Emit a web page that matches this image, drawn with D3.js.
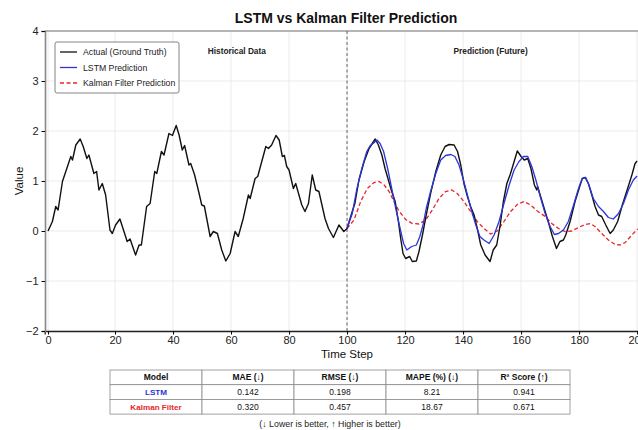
<!DOCTYPE html>
<html lang="en">
<head>
    <title>LSTM vs Kalman Filter Prediction</title>
    <script src="https://d3js.org/d3.v7.min.js"></script>
    <style>
        body { margin: 0; background: #fff; }
        text { font-family: "Liberation Sans", Arial, sans-serif; }
    </style>
</head>
<body>
<script>
    // ---- data ----
    const actualT = [0,1.3,2.3,3,4.3,5.6,6.8,7.3,8.3,9.6,10.5,11.6,12.2,13.7,14.5,15.2,16.2,17.2,18.5,19.2,
        20.2,21.7,24.2,25.2,27.1,28.3,29.1,30.9,32.1,33.7,34.4,36,36.9,38.6,39.8,41.1,42.1,43.2,44,45.5,
        46.1,47.4,49,49.9,50.8,52.8,53.9,55.3,56.8,58.2,59.7,61.4,62.5,64.2,66,66.6,68.3,69.2,70.6,72,
        72.9,74,75.5,76.6,77.7,78.4,79.2,80,81.5,82.3,84.4,85.5,86.7,88,89.2,90.3,92.4,93.6,95.3,97.2,
        98.9,100,101.8,102.7,104.1,105.9,107.6,108.7,109.7,110.8,112,113.1,113.9,115.4,116.6,117.7,118.5,119.3,120.2,121.6,
        122.5,123.9,124.8,126,127.3,128.8,130.6,132.3,133.8,135.2,136.9,138.1,139.2,140.3,141.5,142.6,143.8,144.9,146.1,147.6,
        149.3,150.4,151.6,152.8,153.9,155.1,156.2,157.4,158.7,160,161.1,162.3,163.4,164.6,165.4,165.7,167.1,168.3,169.7,170.8,
        172.2,173.4,174.6,175.4,176.9,178.6,180,181.1,182.1,183.2,184.4,185.5,186.7,187.8,189.2,190.7,191.8,193.3,194.9,196.4,
        198.2,199.3,200];
    const actualV = [0,0.19,0.49,0.42,0.99,1.25,1.49,1.42,1.72,1.84,1.69,1.45,1.52,1.15,1.19,0.82,0.95,0.72,0.02,-0.05,
        0.12,0.24,-0.21,-0.16,-0.48,-0.28,-0.28,0.49,0.55,1.19,1.15,1.59,1.52,1.95,1.91,2.11,1.92,1.62,1.71,1.32,
        1.35,1.13,0.75,0.52,0.5,-0.11,-0.01,-0.05,-0.38,-0.6,-0.45,-0.01,-0.11,0.25,0.72,0.65,1.05,1.09,1.39,1.69,
        1.65,1.72,1.91,1.82,1.49,1.51,1.29,1.22,0.85,0.95,0.52,0.39,0.55,1.12,0.82,0.79,0.25,0.05,-0.13,0.12,
        -0.01,0.05,0.39,0.55,1.02,1.39,1.65,1.75,1.84,1.72,1.52,1.25,1.09,0.79,0.59,0.19,-0.15,-0.45,-0.55,-0.51,
        -0.61,-0.6,-0.41,-0.08,0.32,0.75,1.19,1.52,1.69,1.73,1.72,1.59,1.32,0.95,0.69,0.49,0.32,0.05,-0.28,-0.48,
        -0.61,-0.38,-0.28,0.12,0.59,0.95,1.12,1.35,1.6,1.49,1.42,1.45,1.25,0.92,0.82,0.89,0.62,0.39,0.12,-0.11,
        -0.35,-0.21,-0.18,-0.08,0.19,0.59,0.85,1.05,1.07,0.95,0.72,0.49,0.32,0.29,0.12,-0.05,0.02,0.19,0.52,0.79,
        1.12,1.35,1.4];

    const lstmT = [100,101.8,103.3,105.1,106.8,108,109.2,110.3,111.4,112.6,114,115.4,116.8,118.3,119.5,120.6,122.3,123.9,125.1,126.2,
        127.3,128.8,130.6,132.3,134,135.8,137.2,138.6,140,141.5,143,144.4,145.8,147.2,149,150.7,152.4,154.1,155.9,157.6,
        159.3,160.8,162.3,163.7,165.1,166.6,168.3,170,171.5,172.9,174.6,176.3,178.1,179.8,181.1,182.3,183.4,184.9,186.7,188.4,
        190.1,191.8,193.6,195.3,197,198.7,200];
    const lstmV = [0.05,0.35,0.82,1.25,1.59,1.71,1.76,1.82,1.75,1.59,1.25,0.85,0.45,0.05,-0.25,-0.38,-0.31,-0.28,-0.11,0.12,
        0.45,0.79,1.15,1.42,1.51,1.53,1.49,1.32,1.05,0.72,0.39,0.12,-0.11,-0.18,-0.25,-0.08,0.19,0.55,0.92,1.22,
        1.39,1.49,1.49,1.29,1.02,0.69,0.35,0.09,-0.07,-0.05,0.02,0.19,0.52,0.85,1.05,1.07,0.92,0.65,0.49,0.39,
        0.27,0.24,0.35,0.55,0.82,1.02,1.1];

    const kalmanT = [100,102.4,104.7,107,109.3,111,112.8,114.5,116.2,117.9,120.2,122.5,124.8,127.1,129.4,131.7,134,136.1,138,140.3,
        142.6,144.9,147.2,149.5,151.8,154.1,156.4,158.7,161,163.3,165.6,168.3,170.6,172.9,175.2,177.5,179.8,182.1,183.8,185.5,
        187.8,190.1,192.4,194.1,195.9,198.2,200.2];
    const kalmanV = [0.05,0.22,0.59,0.85,0.97,0.99,0.92,0.79,0.59,0.4,0.23,0.15,0.14,0.22,0.42,0.65,0.79,0.82,0.75,0.59,
        0.39,0.19,0.05,-0.06,0.0,0.19,0.39,0.53,0.59,0.52,0.4,0.29,0.15,0.05,-0.01,0.0,0.07,0.13,0.15,0.09,
        -0.05,-0.18,-0.27,-0.28,-0.23,-0.08,0.04];

    const xTicks = [0, 20, 40, 60, 80, 100, 120, 140, 160, 180, 200];
    const yTicks = [-2, -1, 0, 1, 2, 3, 4];
    const splitStep = 100;

    const tableHeaders = ["Model", "MAE (\u2193)", "RMSE (\u2193)", "MAPE (%) (\u2193)", "R\u00b2 Score (\u2191)"];
    const tableModels  = ["LSTM", "Kalman Filter"];
    const tableRows    = [["0.142", "0.198", "8.21", "0.941"],
                          ["0.320", "0.457", "18.67", "0.671"]];

    const blue  = "#2b35d8";
    const red   = "#e8262a";

    // ---- layout ----
    const W = 638, H = 430;
    const plotTop = 31, plotBottom = 331;

    const svg = d3.select("body").append("svg")
        .attr("width", W).attr("height", H);

    // the picture spaces 0..20 a bit wider than the rest
    const x = d3.scaleLinear().domain([-1, 20, 201]).range([44.7, 115, 640]);
    const y = d3.scaleLinear().domain([-2, 4]).range([plotBottom, plotTop]);

    // grid
    svg.append("g").selectAll("line").data(xTicks).join("line")
        .attr("x1", d => x(d)).attr("x2", d => x(d))
        .attr("y1", plotTop).attr("y2", plotBottom)
        .attr("stroke", "#e6e6e6").attr("stroke-width", 0.8);
    svg.append("g").selectAll("line").data(yTicks).join("line")
        .attr("x1", 45).attr("x2", 640)
        .attr("y1", d => y(d)).attr("y2", d => y(d))
        .attr("stroke", "#e6e6e6").attr("stroke-width", 0.8);

    // axes
    const xAxis = svg.append("g")
        .attr("transform", `translate(0,${plotBottom})`)
        .call(d3.axisBottom(x).tickValues(xTicks).tickSizeOuter(0).tickSize(3.5).tickPadding(2));
    xAxis.select(".domain").attr("stroke", "#222").attr("stroke-width", 1.3);
    xAxis.selectAll("text").attr("font-size", 11).attr("fill", "#222")
        .attr("font-family", "'Liberation Sans', Arial, sans-serif");

    const yAxis = svg.append("g")
        .attr("transform", `translate(45,0)`)
        .call(d3.axisLeft(y).tickValues(yTicks).tickSizeOuter(0).tickSize(3.5).tickPadding(3)
            .tickFormat(d => d < 0 ? "\u2212" + Math.abs(d) : d));
    yAxis.select(".domain").attr("stroke", "#888").attr("stroke-width", 1.6);
    yAxis.selectAll("text").attr("font-size", 11).attr("fill", "#222")
        .attr("font-family", "'Liberation Sans', Arial, sans-serif");

    // top spine
    svg.append("line").attr("x1", 45).attr("x2", 640).attr("y1", plotTop).attr("y2", plotTop)
        .attr("stroke", "#777").attr("stroke-width", 1.2);

    // split line
    svg.append("line")
        .attr("x1", x(splitStep)).attr("x2", x(splitStep))
        .attr("y1", plotTop).attr("y2", plotBottom)
        .attr("stroke", "#555").attr("stroke-width", 0.9)
        .attr("stroke-dasharray", "3,2.5");

    // series
    const line = d3.line().x(d => x(d[0])).y(d => y(d[1]));
    const actual = d3.zip(actualT, actualV);
    const lstm   = d3.zip(lstmT, lstmV);
    const kalman = d3.zip(kalmanT, kalmanV);

    svg.append("path").datum(kalman)
        .attr("fill", "none").attr("stroke", red).attr("stroke-width", 1.3)
        .attr("stroke-dasharray", "4,2.5").attr("d", line);
    svg.append("path").datum(actual)
        .attr("fill", "none").attr("stroke", "#111").attr("stroke-width", 1.4)
        .attr("stroke-linejoin", "round").attr("d", line);
    svg.append("path").datum(lstm)
        .attr("fill", "none").attr("stroke", blue).attr("stroke-width", 1.3)
        .attr("stroke-linejoin", "round").attr("d", line);

    // region labels
    svg.append("text").attr("x", x(62)).attr("y", 54)
        .attr("text-anchor", "middle").attr("font-size", 8.3).attr("font-weight", "bold")
        .attr("fill", "#222").text("Historical Data");
    svg.append("text").attr("x", x(149.5)).attr("y", 54)
        .attr("text-anchor", "middle").attr("font-size", 8.3).attr("font-weight", "bold")
        .attr("fill", "#222").text("Prediction (Future)");

    // legend
    const legendItems = [
        { label: "Actual (Ground Truth)", color: "#111", dash: null },
        { label: "LSTM Prediction", color: blue, dash: null },
        { label: "Kalman Filter Prediction", color: red, dash: "4,2.5" }
    ];
    const lg = svg.append("g").attr("transform", "translate(55,42)");
    lg.append("rect").attr("width", 124).attr("height", 51).attr("rx", 2)
        .attr("fill", "#fff").attr("stroke", "#777").attr("stroke-width", 0.9);
    legendItems.forEach((d, i) => {
        const yy = 10 + i * 15.5;
        lg.append("line").attr("x1", 5).attr("x2", 22).attr("y1", yy).attr("y2", yy)
            .attr("stroke", d.color).attr("stroke-width", 1.3)
            .attr("stroke-dasharray", d.dash);
        lg.append("text").attr("x", 28).attr("y", yy + 3.2)
            .attr("font-size", 8.7).attr("fill", "#222").text(d.label);
    });

    // title and axis labels
    svg.append("text").attr("x", 346).attr("y", 23).attr("text-anchor", "middle")
        .attr("font-size", 14).attr("font-weight", "bold").attr("fill", "#111")
        .text("LSTM vs Kalman Filter Prediction");
    svg.append("text").attr("x", 347).attr("y", 358).attr("text-anchor", "middle")
        .attr("font-size", 11.5).attr("fill", "#111").text("Time Step");
    svg.append("text").attr("transform", "translate(23,181) rotate(-90)")
        .attr("text-anchor", "middle").attr("font-size", 11.5).attr("fill", "#111").text("Value");

    // metrics table
    const tX = 110, tW = 460, tY = 370, rowH = 14.7;
    const colW = tW / tableHeaders.length;
    const tbl = svg.append("g");
    const allRows = [tableHeaders].concat(tableModels.map((m, i) => [m].concat(tableRows[i])));
    allRows.forEach((row, r) => {
        row.forEach((cell, c) => {
            tbl.append("rect")
                .attr("x", tX + c * colW).attr("y", tY + r * rowH)
                .attr("width", colW).attr("height", rowH)
                .attr("fill", "#fff").attr("stroke", "#8a8a8a").attr("stroke-width", 0.8);
            let color = "#111", weight = "normal", size = 8.5;
            if (r === 0) weight = "bold";
            if (r > 0 && c === 0) { weight = "bold"; color = r === 1 ? blue : red; size = 8.1; }
            tbl.append("text")
                .attr("x", tX + c * colW + colW / 2).attr("y", tY + r * rowH + rowH / 2 + 3)
                .attr("text-anchor", "middle").attr("font-size", size)
                .attr("font-weight", weight).attr("fill", color).text(cell);
        });
    });
    svg.append("text").attr("x", 330).attr("y", 427).attr("text-anchor", "middle")
        .attr("font-size", 8.8).attr("fill", "#222")
        .text("(\u2193 Lower is better, \u2191 Higher is better)");
</script>
</body>
</html>
